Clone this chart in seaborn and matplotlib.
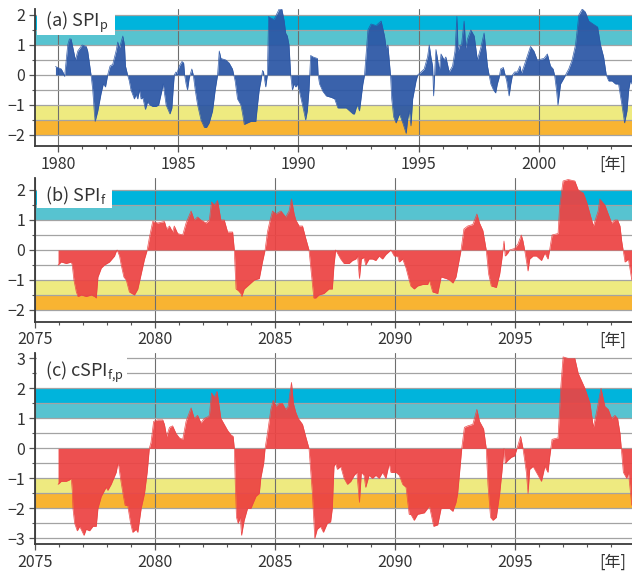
import numpy as np
import pandas as pd
import matplotlib
matplotlib.use("Agg")
import matplotlib.pyplot as plt
from matplotlib.patches import Rectangle
from matplotlib.ticker import MultipleLocator
import seaborn as sns

sns.set_theme(style="ticks")
plt.rcParams['font.family'] = ['Noto Sans CJK JP', 'DejaVu Sans']
plt.rcParams['mathtext.fontset'] = 'custom'
plt.rcParams['mathtext.rm'] = 'Noto Sans CJK JP'
plt.rcParams['axes.unicode_minus'] = True

# (a) SPI_p, 1980-2003
a_year = [1979.90, 1980.14, 1980.21, 1980.28, 1980.41, 1980.48, 1980.55, 1980.73, 1980.83, 1981.01,
          1981.18, 1981.24, 1981.38, 1981.45, 1981.52, 1981.55, 1981.66, 1981.80, 1981.89, 1981.98,
          1982.07, 1982.17, 1982.28, 1982.42, 1982.49, 1982.56, 1982.70, 1982.77, 1982.81, 1982.90,
          1982.97, 1983.04, 1983.18, 1983.25, 1983.32, 1983.39, 1983.46, 1983.53, 1983.64, 1983.73,
          1983.83, 1983.94, 1984.08, 1984.19, 1984.33, 1984.38, 1984.43, 1984.50, 1984.61, 1984.66,
          1984.74, 1984.80, 1984.84, 1984.91, 1984.95, 1985.05, 1985.16, 1985.23, 1985.27, 1985.33,
          1985.39, 1985.46, 1985.57, 1985.63, 1985.71, 1985.81, 1985.95, 1986.09, 1986.18, 1986.29,
          1986.43, 1986.54, 1986.64, 1986.71, 1986.78, 1986.98, 1987.12, 1987.26, 1987.37, 1987.47,
          1987.61, 1987.68, 1987.75, 1987.88, 1988.02, 1988.23, 1988.30, 1988.37, 1988.44, 1988.51,
          1988.55, 1988.62, 1988.64, 1988.71, 1988.76, 1988.85, 1988.99, 1989.20, 1989.31, 1989.41,
          1989.47, 1989.54, 1989.61, 1989.68, 1989.75, 1989.82, 1989.89, 1989.96, 1990.03, 1990.17,
          1990.30, 1990.37, 1990.44, 1990.51, 1990.61, 1990.79, 1990.82, 1990.88, 1991.02, 1991.16,
          1991.37, 1991.51, 1991.64, 1991.85, 1991.99, 1992.13, 1992.27, 1992.33, 1992.44, 1992.54,
          1992.68, 1992.75, 1992.89, 1993.02, 1993.23, 1993.44, 1993.58, 1993.65, 1993.72, 1993.83,
          1993.88, 1993.96, 1994.06, 1994.20, 1994.34, 1994.48, 1994.54, 1994.61, 1994.68, 1994.75,
          1994.89, 1994.96, 1995.10, 1995.23, 1995.37, 1995.44, 1995.51, 1995.58, 1995.62, 1995.68,
          1995.72, 1995.79, 1995.86, 1995.93, 1996.06, 1996.13, 1996.27, 1996.34, 1996.41, 1996.51,
          1996.59, 1996.64, 1996.71, 1996.78, 1996.89, 1996.96, 1997.03, 1997.17, 1997.31, 1997.44,
          1997.58, 1997.72, 1997.86, 1997.93, 1998.00, 1998.11, 1998.20, 1998.27, 1998.34, 1998.41,
          1998.52, 1998.58, 1998.66, 1998.76, 1998.83, 1998.90, 1998.99, 1999.10, 1999.21, 1999.27,
          1999.38, 1999.65, 1999.79, 1999.93, 2000.21, 2000.35, 2000.48, 2000.59, 2000.65, 2000.73,
          2000.79, 2000.90, 2001.04, 2001.24, 2001.38, 2001.52, 2001.66, 2001.80, 2001.93, 2002.07,
          2002.25, 2002.44, 2002.56, 2002.69, 2002.80, 2002.90, 2003.04, 2003.18, 2003.31, 2003.45,
          2003.56, 2003.66, 2003.73, 2003.80, 2003.94]
a_spi = [0.28, 0.2, 0.1, -0.05, 1.0, 1.2, 1.2, 0.5, 0.8, 1.0,
         0.95, 0.8, 0.0, -0.5, -1.3, -1.55, -1.2, -0.6, -0.3, -0.4,
         0.0, 0.3, 0.35, 0.8, 1.1, 0.9, 1.3, 1.0, 0.3, 0.0,
         -0.2, -0.5, -0.8, -0.65, -0.8, -0.5, -0.8, -0.75, -1.15, -0.9,
         -1.0, -1.05, -1.05, -1.0, -0.5, -0.3, -0.6, -1.0, -1.2, -1.3,
         -1.1, -0.4, 0.0, 0.1, 0.05, 0.3, 0.45, 0.4, 0.0, -0.3,
         -0.5, -0.1, 0.2, 0.0, -0.5, -1.0, -1.5, -1.75, -1.75, -1.6,
         -1.2, -0.5, 0.0, 0.8, 0.55, 0.5, 0.4, 0.2, -0.2, -0.8,
         -1.0, -1.3, -1.65, -1.6, -1.55, -1.55, -1.0, -0.5, -0.2, 0.15,
         0.1, -0.3, -0.4, 0.0, 1.95, 1.9, 1.85, 2.2, 2.2, 1.8,
         1.4, 1.3, 1.0, 0.0, -0.5, -0.3, -0.4, -0.3, -0.5, -1.0,
         -1.5, -1.2, -0.5, 0.65, 0.6, 0.55, 0.0, -0.3, -0.55, -0.7,
         -0.75, -0.8, -1.1, -1.1, -1.1, -1.2, -1.3, -1.3, -1.0, -1.2,
         -0.3, 0.0, 1.5, 1.7, 1.65, 1.8, 1.3, 0.9, 1.0, 0.0,
         -0.8, -1.4, -1.6, -1.3, -1.6, -1.95, -1.5, -1.2, -1.7, -0.8,
         -0.2, 0.0, 0.1, 0.2, 0.6, 1.0, 0.6, 0.3, -0.7, 0.3,
         0.85, 0.5, 0.15, 0.7, 0.5, 0.6, 0.1, 0.2, 0.3, 0.8,
         1.95, 0.8, 1.0, 1.0, 1.8, 0.9, 1.2, 1.5, 1.3, 0.5,
         0.9, 1.4, 0.3, 0.0, -0.3, -0.5, -0.6, -0.3, -0.1, 0.2,
         0.25, 0.05, -0.2, -0.7, -0.3, 0.0, 0.1, 0.1, 0.3, 0.05,
         0.3, 0.95, 0.8, 0.5, 0.55, 0.7, 0.3, 0.2, 0.0, -0.5,
         -1.0, -0.3, -0.1, 0.2, 0.5, 1.0, 2.0, 2.2, 2.1, 1.8,
         1.7, 1.6, 1.0, 0.6, 0.0, -0.2, -0.2, -0.3, -0.3, -1.0,
         -1.6, -1.2, -0.5, -0.2, -0.4]

# (b) SPI_f, 2076-2099
b_year = [2075.96, 2076.09, 2076.30, 2076.51, 2076.55, 2076.62, 2076.72, 2076.79, 2076.93, 2077.13,
          2077.34, 2077.48, 2077.55, 2077.62, 2077.76, 2077.89, 2078.10, 2078.31, 2078.38, 2078.42,
          2078.52, 2078.59, 2078.70, 2078.80, 2078.93, 2079.14, 2079.28, 2079.42, 2079.56, 2079.67,
          2079.76, 2079.90, 2080.11, 2080.39, 2080.48, 2080.60, 2080.73, 2080.80, 2080.94, 2081.15,
          2081.29, 2081.50, 2081.63, 2081.77, 2081.91, 2082.12, 2082.26, 2082.35, 2082.47, 2082.60,
          2082.74, 2082.88, 2083.02, 2083.23, 2083.30, 2083.32, 2083.37, 2083.46, 2083.57, 2083.61,
          2083.71, 2083.92, 2084.13, 2084.34, 2084.47, 2084.58, 2084.68, 2084.79, 2084.89, 2085.03,
          2085.24, 2085.44, 2085.58, 2085.68, 2085.79, 2085.86, 2086.00, 2086.14, 2086.27, 2086.41,
          2086.51, 2086.61, 2086.69, 2086.82, 2087.03, 2087.24, 2087.38, 2087.45, 2087.52, 2087.59,
          2087.73, 2087.87, 2088.08, 2088.22, 2088.36, 2088.43, 2088.51, 2088.59, 2088.70, 2088.77,
          2088.91, 2089.05, 2089.19, 2089.33, 2089.47, 2089.61, 2089.75, 2089.82, 2089.96, 2090.10,
          2090.17, 2090.31, 2090.45, 2090.58, 2090.65, 2090.79, 2090.93, 2091.14, 2091.35, 2091.42,
          2091.56, 2091.77, 2091.91, 2092.12, 2092.26, 2092.40, 2092.53, 2092.60, 2092.74, 2092.86,
          2093.02, 2093.23, 2093.40, 2093.51, 2093.65, 2093.79, 2093.89, 2094.00, 2094.21, 2094.35,
          2094.44, 2094.53, 2094.58, 2094.69, 2094.76, 2094.97, 2095.11, 2095.25, 2095.32, 2095.39,
          2095.53, 2095.60, 2095.74, 2095.88, 2096.09, 2096.23, 2096.36, 2096.43, 2096.53, 2096.78,
          2096.85, 2096.99, 2097.20, 2097.48, 2097.62, 2097.83, 2097.97, 2098.18, 2098.25, 2098.45,
          2098.52, 2098.73, 2098.87, 2099.01, 2099.15, 2099.26, 2099.36, 2099.43, 2099.57, 2099.71,
          2099.85, 2099.99]
b_spi = [-0.5, -0.4, -0.45, -0.4, -0.5, -1.0, -1.4, -1.55, -1.5, -1.55,
         -1.5, -1.55, -1.6, -0.9, -0.6, -0.5, -0.4, -0.2, -0.05, 0.0,
         -0.2, -0.5, -0.9, -1.0, -1.4, -1.5, -1.3, -0.8, -0.3, 0.0,
         0.4, 0.95, 0.9, 0.95, 0.7, 0.8, 0.6, 0.8, 0.55, 0.5,
         0.9, 1.3, 1.0, 1.1, 1.0, 0.9, 1.0, 1.6, 1.5, 1.65,
         1.0, 1.0, 0.6, 0.6, 0.0, -0.4, -1.3, -1.35, -1.45, -1.55,
         -1.3, -1.15, -1.0, -0.95, -0.4, 0.0, 0.6, 1.0, 1.3, 1.2,
         1.3, 1.1, 1.3, 1.7, 1.2, 1.0, 0.8, 0.8, 0.4, 0.0,
         -0.8, -1.6, -1.6, -1.5, -1.45, -1.3, -1.3, -0.5, 0.0, -0.1,
         -0.3, -0.45, -0.45, -0.35, -0.3, -0.2, -0.95, -0.3, -0.25, -0.5,
         -0.3, -0.3, -0.35, -0.2, -0.3, -0.15, -0.05, 0.0, -0.2, -0.2,
         -0.4, -0.3, -0.6, -1.0, -1.2, -1.3, -1.2, -1.15, -1.15, -1.0,
         -1.4, -1.45, -0.9, -0.95, -1.0, -1.1, -0.9, -0.6, 0.0, 0.7,
         0.8, 0.85, 1.2, 0.9, 0.65, 0.0, -0.8, -1.2, -1.25, -0.8,
         -0.3, 0.3, -0.2, -0.1, 0.0, 0.05, 0.2, 0.5, 0.3, 0.0,
         -0.7, -0.3, -0.2, -0.2, -0.35, -0.1, -0.3, 0.0, 0.5, 0.55,
         1.5, 2.3, 2.35, 2.3, 2.0, 1.9, 1.6, 1.0, 0.8, 1.3,
         1.7, 1.5, 1.2, 0.9, 1.0, 1.0, 0.8, 0.3, -0.4, -0.3,
         -1.0, -0.6]

# (c) cSPI_f,p, 2076-2099
c_year = [2075.96, 2076.09, 2076.30, 2076.44, 2076.51, 2076.55, 2076.58, 2076.65, 2076.76, 2076.86,
          2077.04, 2077.13, 2077.27, 2077.41, 2077.55, 2077.62, 2077.76, 2077.96, 2078.03, 2078.17,
          2078.38, 2078.45, 2078.49, 2078.56, 2078.66, 2078.75, 2078.86, 2078.98, 2079.07, 2079.21,
          2079.28, 2079.42, 2079.56, 2079.67, 2079.76, 2079.83, 2079.94, 2080.11, 2080.32, 2080.39,
          2080.48, 2080.60, 2080.73, 2080.87, 2081.01, 2081.15, 2081.29, 2081.43, 2081.50, 2081.63,
          2081.77, 2081.91, 2082.05, 2082.19, 2082.26, 2082.35, 2082.47, 2082.58, 2082.74, 2082.88,
          2083.02, 2083.16, 2083.25, 2083.30, 2083.34, 2083.39, 2083.46, 2083.55, 2083.60, 2083.71,
          2083.85, 2083.99, 2084.20, 2084.34, 2084.40, 2084.52, 2084.58, 2084.68, 2084.82, 2084.92,
          2085.03, 2085.17, 2085.30, 2085.44, 2085.54, 2085.68, 2085.76, 2085.86, 2085.96, 2086.14,
          2086.27, 2086.41, 2086.55, 2086.65, 2086.75, 2086.89, 2087.01, 2087.17, 2087.31, 2087.38,
          2087.45, 2087.52, 2087.59, 2087.73, 2087.87, 2088.01, 2088.15, 2088.29, 2088.40, 2088.51,
          2088.59, 2088.70, 2088.77, 2088.91, 2089.05, 2089.19, 2089.33, 2089.47, 2089.61, 2089.75,
          2089.82, 2090.03, 2090.17, 2090.31, 2090.45, 2090.58, 2090.65, 2090.79, 2090.93, 2091.21,
          2091.35, 2091.42, 2091.60, 2091.77, 2091.91, 2092.05, 2092.26, 2092.40, 2092.53, 2092.60,
          2092.77, 2092.88, 2093.02, 2093.23, 2093.40, 2093.51, 2093.68, 2093.79, 2093.86, 2093.97,
          2094.07, 2094.21, 2094.35, 2094.44, 2094.53, 2094.58, 2094.69, 2094.83, 2094.97, 2095.11,
          2095.22, 2095.32, 2095.46, 2095.53, 2095.60, 2095.74, 2095.88, 2096.09, 2096.23, 2096.36,
          2096.43, 2096.53, 2096.78, 2096.89, 2096.99, 2097.20, 2097.48, 2097.62, 2097.90, 2098.11,
          2098.25, 2098.38, 2098.57, 2098.73, 2098.87, 2099.01, 2099.15, 2099.26, 2099.36, 2099.50,
          2099.64, 2099.71, 2099.85, 2099.99]
c_spi = [-1.2, -1.1, -1.1, -1.05, -1.0, -1.4, -2.0, -2.5, -2.75, -2.6,
         -2.9, -2.7, -2.75, -2.6, -2.6, -2.0, -1.6, -1.3, -1.4, -1.2,
         -0.8, -0.5, -0.6, -1.0, -1.5, -1.9, -1.9, -2.5, -2.8, -2.7,
         -2.8, -2.0, -1.5, -0.8, 0.0, 0.2, 0.9, 0.95, 0.95, 0.8,
         0.4, 0.7, 0.75, 0.5, 0.35, 0.3, 0.9, 1.2, 1.35, 1.0,
         1.1, 0.85, 1.0, 1.05, 1.1, 1.85, 1.7, 1.9, 1.0, 0.8,
         0.6, 0.45, 0.4, 0.0, -1.2, -2.3, -2.5, -2.3, -2.9, -2.4,
         -2.0, -2.0, -1.6, -1.5, -1.0, -0.5, 0.0, 0.5, 1.3, 1.6,
         1.4, 1.5, 1.5, 1.3, 1.4, 2.2, 1.5, 1.2, 1.0, 0.8,
         0.4, 0.0, -1.5, -3.0, -2.7, -2.6, -2.8, -2.5, -2.45, -2.0,
         -0.6, -0.5, -0.7, -0.6, -1.0, -1.2, -1.1, -0.9, -0.8, -1.8,
         -0.8, -0.9, -1.3, -0.9, -1.0, -0.9, -1.0, -0.8, -1.0, -0.5,
         -0.8, -0.8, -0.9, -1.2, -1.3, -2.2, -2.2, -2.4, -2.2, -2.15,
         -2.0, -1.9, -2.6, -2.55, -2.0, -2.0, -2.0, -2.1, -1.8, -1.5,
         0.0, 0.7, 0.75, 0.8, 1.3, 0.9, 0.65, 0.0, -1.2, -2.3,
         -2.4, -2.3, -1.5, -0.8, 0.0, -0.5, -0.4, -0.3, -0.25, 0.1,
         0.4, 0.0, -0.8, -1.5, -0.7, -0.6, -0.8, -1.1, -0.6, -0.8,
         -0.3, 0.3, 0.35, 2.0, 3.05, 3.0, 3.0, 2.5, 2.0, 1.5,
         0.7, 1.2, 2.0, 1.4, 1.3, 1.0, 1.1, 1.0, 0.5, -0.8,
         -1.0, -0.8, -1.9, -1.5]

panel_labels = ['(a) SPI$_{\\mathrm{p}}$', '(b) SPI$_{\\mathrm{f}}$',
                '(c) cSPI$_{\\mathrm{f{,}p}}$']
year_unit = '[年]'

band_lo = [1.5, 1.0, -1.5, -2.0]
band_hi = [2.0, 1.5, -1.0, -1.5]
band_colors = ['#00b4dc', '#57c3d0', '#eeea80', '#f8b432']

BLUE = '#2b56a5'
RED = '#ec4343'


def draw_panel(ax, years, vals, color, xlim, ylim, label, box, text_y):
    df = pd.DataFrame({'year': years, 'spi': vals})
    for lo, hi, c in zip(band_lo, band_hi, band_colors):
        ax.axhspan(lo, hi, color=c, lw=0, zorder=0)
    # slightly see-through so the grid shows faintly, as in the original
    ax.fill_between(df['year'], 0, df['spi'], color=color, lw=0, alpha=0.93, zorder=1)
    sns.lineplot(data=df, x='year', y='spi', ax=ax, color=color, lw=0.5,
                 alpha=0.93, sort=False, zorder=1)
    ax.set_xlabel('')
    ax.set_ylabel('')
    ax.set_xlim(xlim)
    ax.set_ylim(ylim)

    ax.xaxis.set_major_locator(MultipleLocator(5))
    ax.xaxis.set_minor_locator(MultipleLocator(1))
    ax.yaxis.set_major_locator(MultipleLocator(1))
    ax.yaxis.set_minor_locator(MultipleLocator(0.5))
    ax.grid(which='major', axis='x', color='#6e6e6e', lw=0.8)
    ax.grid(which='both', axis='y', color='#a3a3a3', lw=0.9)

    sns.despine(ax=ax)
    for s in ['left', 'bottom']:
        ax.spines[s].set_color('#3a3a3a')
        ax.spines[s].set_linewidth(1.3)
        ax.spines[s].set_zorder(4)
    ax.tick_params(which='major', length=4, width=0.9, color='#555555',
                   labelsize=11.5, labelcolor='#333333', pad=3)
    ax.tick_params(which='minor', length=2.5, width=0.8, color='#555555')

    # white label box in the top-left corner
    ax.add_patch(Rectangle((0.003, box[1]), box[0], 1 - box[1], transform=ax.transAxes,
                           facecolor='white', edgecolor='none', zorder=3))
    ax.text(0.017, text_y, label, transform=ax.transAxes, ha='left', va='center',
            fontsize=13, color='#333333', zorder=5)
    ax.annotate(year_unit, xy=(1, 0), xycoords='axes fraction', xytext=(-4, -7),
                textcoords='offset points', ha='right', va='top', fontsize=11.5,
                color='#333333')


fig = plt.figure(figsize=(6.32, 5.72), dpi=100)
L, W = 35 / 632, 597 / 632
ax_a = fig.add_axes([L, 1 - 146 / 572, W, 137 / 572])
ax_b = fig.add_axes([L, 1 - 321.7 / 572, W, 143.7 / 572])
ax_c = fig.add_axes([L, 1 - 544 / 572, W, 191 / 572])

draw_panel(ax_a, a_year, a_spi, BLUE, (1979.05, 2003.87), (-2.37, 2.2),
           panel_labels[0], (0.131, 0.81), 0.905)
draw_panel(ax_b, b_year, b_spi, RED, (2075.0, 2099.86), (-2.39, 2.4),
           panel_labels[1], (0.126, 0.789), 0.875)
draw_panel(ax_c, c_year, c_spi, RED, (2075.0, 2099.86), (-3.19, 3.18),
           panel_labels[2], (0.151, 0.832), 0.90)

fig.savefig('out.png', dpi=100)
